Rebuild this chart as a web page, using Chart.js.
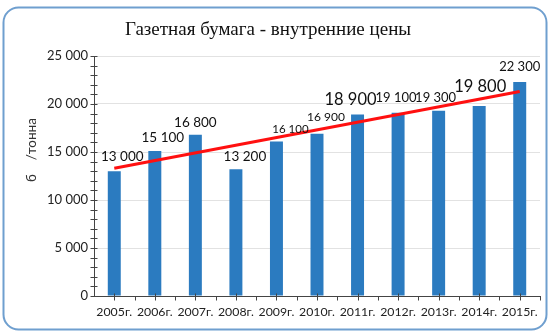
<!DOCTYPE html>
<html>
<head>
<meta charset="utf-8">
<script src="https://cdn.jsdelivr.net/npm/chart.js@4/dist/chart.umd.min.js"></script>
<style>
html,body{margin:0;padding:0;background:#fff;}
#wrap{width:550px;height:334px;position:relative;}
</style>
</head>
<body>
<div id="wrap"><canvas id="c" width="550" height="334"></canvas></div>
<script>
const categories = ['2005г.','2006г.','2007г.','2008г.','2009г.','2010г.','2011г.','2012г.','2013г.','2014г.','2015г.'];
const prices = [13000, 15100, 16800, 13200, 16100, 16900, 18900, 19100, 19300, 19800, 22300];
const priceLabels = ['13 000','15 100','16 800','13 200','16 100','16 900','18 900','19 100','19 300','19 800','22 300'];
const trend = [13300, null, null, null, null, null, null, null, null, null, 21300];
const titleText = 'Газетная бумага - внутренние цены';
const yTitleText = 'б    /тонна';

// label styling (not data)
const labelSize = [13.5,13.5,13.5,13.5,11.5,12,16.5,13,13,16.5,13];
const labelDx = [8,8,0,9,14,9,-7,-2,-3,1,0];
const labelDy = [-15,-13,-12,-13,-12,-17,-15,-15,-13,-19,-15];

const frame = {
  id:'frame',
  beforeDraw(chart){
    const ctx = chart.ctx;
    ctx.save();
    ctx.fillStyle='#fff';
    ctx.fillRect(0,0,chart.width,chart.height);
    ctx.beginPath();
    ctx.roundRect(3.5,7.5,543,322,15);
    ctx.strokeStyle='#6f9fcf';
    ctx.lineWidth=2;
    ctx.stroke();
    ctx.fillStyle='#111';
    ctx.font='19px "Liberation Serif", "DejaVu Serif", serif';
    ctx.textAlign='center';
    ctx.textBaseline='middle';
    ctx.fillText(titleText, 268, 30);
    ctx.translate(32,150);
    ctx.rotate(-Math.PI/2);
    ctx.font='13.5px Lato, "Open Sans", sans-serif';
    ctx.fillStyle='#333';
    ctx.fillText(yTitleText,0,0);
    ctx.restore();
  },
  afterDraw(chart){
    const ctx = chart.ctx;
    const ys = chart.scales.y, xs = chart.scales.x;
    ctx.save();
    ctx.strokeStyle='#444';
    ctx.lineWidth=1;
    const ax = Math.round(ys.right)+0.5;
    ys.ticks.forEach((t)=>{
      const py = Math.round(ys.getPixelForValue(t.value))+0.5;
      ctx.beginPath(); ctx.moveTo(ax-4,py); ctx.lineTo(ax+3,py); ctx.stroke();
    });
    const by = Math.round(xs.top)+0.5;
    const half = (xs.getPixelForValue(1)-xs.getPixelForValue(0))/2;
    for(let i=0;i<categories.length;i++){
      const cx = Math.round(xs.getPixelForValue(i))+0.5;
      ctx.beginPath(); ctx.moveTo(cx,by-3); ctx.lineTo(cx,by+4); ctx.stroke();
      const ex = Math.round(xs.getPixelForValue(i)+half)+0.5;
      ctx.beginPath(); ctx.moveTo(ex,by); ctx.lineTo(ex,by+4); ctx.stroke();
    }
    // data labels
    const meta = chart.getDatasetMeta(1);
    ctx.fillStyle='#111';
    ctx.textAlign='center';
    ctx.textBaseline='middle';
    meta.data.forEach((bar,i)=>{
      ctx.font = labelSize[i]+'px Lato, "Open Sans", sans-serif';
      ctx.fillText(priceLabels[i], bar.x+labelDx[i], bar.y+labelDy[i]);
    });
    ctx.restore();
  }
};

new Chart(document.getElementById('c'),{
  data:{
    labels:categories,
    datasets:[
      {type:'line', data:trend, spanGaps:true, borderColor:'#ff1010', borderWidth:3, pointRadius:0, order:0},
      {type:'bar', data:prices, backgroundColor:'#2b7bc0', barPercentage:0.32, categoryPercentage:1, order:1}
    ]
  },
  options:{
    responsive:false,
    animation:false,
    events:[],
    layout:{padding:{left:0,right:10,top:56,bottom:0}},
    plugins:{legend:{display:false},tooltip:{enabled:false},title:{display:false}},
    scales:{
      x:{
        grid:{display:false,drawTicks:false},
        border:{color:'#444',width:1},
        ticks:{color:'#222',font:{family:'Lato, "Open Sans", sans-serif',size:12.3},padding:9,maxRotation:0,autoSkip:false},
        afterFit(s){s.height=38;}
      },
      y:{
        min:0,max:25000,
        grid:{color:(c)=> (c.tick && c.tick.value%5000===0 && c.tick.value>0) ? '#e2e2e2' : 'rgba(0,0,0,0)', drawTicks:false},
        border:{color:'#444',width:1},
        ticks:{stepSize:1000,autoSkip:false,color:'#222',padding:6,font:{family:'Lato, "Open Sans", sans-serif',size:13},
          callback:(v)=> v%5000===0 ? (v===0?'0':(v/1000)+' 000') : ''},
        afterFit(s){s.width=94;}
      }
    }
  },
  plugins:[frame]
});
</script>
</body>
</html>
